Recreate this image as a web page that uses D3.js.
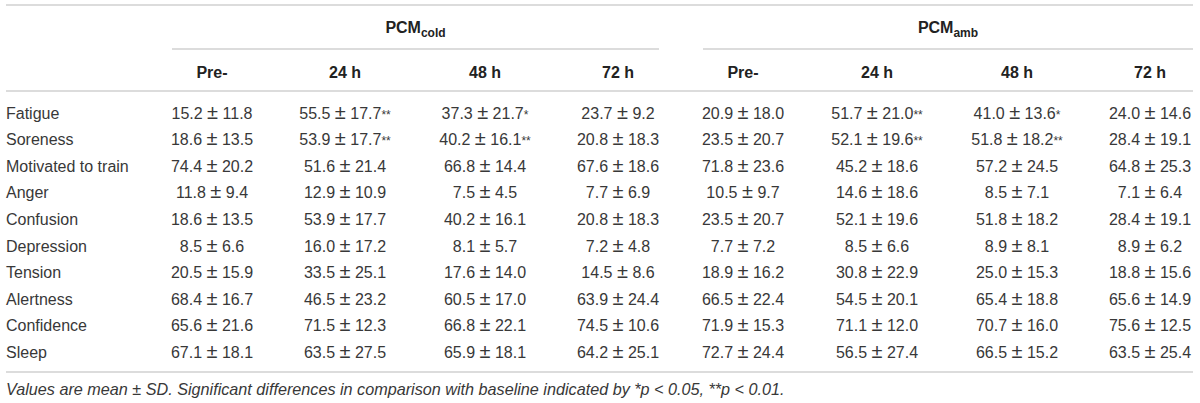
<!DOCTYPE html>
<html lang="en">
<head>
<meta charset="UTF-8">
<title>Mood questionnaire table</title>
<script src="https://d3js.org/d3.v7.min.js"></script>
<style>
    body { margin: 0; background: #fff; }
    svg { display: block; font-family: "Liberation Sans", Arial, sans-serif; }
    .rule { stroke: #dcdcdc; stroke-width: 2; }
    .cell { font-size: 16px; fill: #383838; }
    .head { font-size: 16px; font-weight: bold; fill: #222; }
    .note { font-size: 16.2px; font-style: italic; fill: #383838; }
</style>
</head>
<body>
<svg id="table" width="1200" height="403"></svg>
<script>
// row labels and column headers
const measures = ["Fatigue", "Soreness", "Motivated to train", "Anger", "Confusion",
                  "Depression", "Tension", "Alertness", "Confidence", "Sleep"];
const timepoints = ["Pre-", "24 h", "48 h", "72 h"];
const conditions = [{ key: "cold", base: "PCM", sub: "cold" }, { key: "amb", base: "PCM", sub: "amb" }];

// PCM cold: mean, SD, significance marks (Pre-, 24 h, 48 h, 72 h)
const coldMean = [
    [15.2, 55.5, 37.3, 23.7], [18.6, 53.9, 40.2, 20.8], [74.4, 51.6, 66.8, 67.6],
    [11.8, 12.9, 7.5, 7.7], [18.6, 53.9, 40.2, 20.8], [8.5, 16.0, 8.1, 7.2],
    [20.5, 33.5, 17.6, 14.5], [68.4, 46.5, 60.5, 63.9], [65.6, 71.5, 66.8, 74.5],
    [67.1, 63.5, 65.9, 64.2]
];
const coldSD = [
    [11.8, 17.7, 21.7, 9.2], [13.5, 17.7, 16.1, 18.3], [20.2, 21.4, 14.4, 18.6],
    [9.4, 10.9, 4.5, 6.9], [13.5, 17.7, 16.1, 18.3], [6.6, 17.2, 5.7, 4.8],
    [15.9, 25.1, 14.0, 8.6], [16.7, 23.2, 17.0, 24.4], [21.6, 12.3, 22.1, 10.6],
    [18.1, 27.5, 18.1, 25.1]
];
const coldSig = [
    ["", "**", "*", ""], ["", "**", "**", ""]
];

// PCM amb: mean, SD, significance marks
const ambMean = [
    [20.9, 51.7, 41.0, 24.0], [23.5, 52.1, 51.8, 28.4], [71.8, 45.2, 57.2, 64.8],
    [10.5, 14.6, 8.5, 7.1], [23.5, 52.1, 51.8, 28.4], [7.7, 8.5, 8.9, 8.9],
    [18.9, 30.8, 25.0, 18.8], [66.5, 54.5, 65.4, 65.6], [71.9, 71.1, 70.7, 75.6],
    [72.7, 56.5, 66.5, 63.5]
];
const ambSD = [
    [18.0, 21.0, 13.6, 14.6], [20.7, 19.6, 18.2, 19.1], [23.6, 18.6, 24.5, 25.3],
    [9.7, 18.6, 7.1, 6.4], [20.7, 19.6, 18.2, 19.1], [7.2, 6.6, 8.1, 6.2],
    [16.2, 22.9, 15.3, 15.6], [22.4, 20.1, 18.8, 14.9], [15.3, 12.0, 16.0, 12.5],
    [24.4, 27.4, 15.2, 25.4]
];
const ambSig = [
    ["", "**", "*", ""], ["", "**", "**", ""]
];

const footnote = "Values are mean \u00b1 SD. Significant differences in comparison with baseline indicated by *p < 0.05, **p < 0.01.";

const svg = d3.select("#table");
const fmt = d3.format(".1f");

// column centres (columns are not evenly spaced in the original layout)
const colX = d3.scaleOrdinal()
    .domain(["cold|Pre-", "cold|24 h", "cold|48 h", "cold|72 h", "amb|Pre-", "amb|24 h", "amb|48 h", "amb|72 h"])
    .range([212, 345, 485, 618, 743, 877, 1017, 1150]);
const groupSpan = { cold: [172, 659], amb: [703, 1193] };

const rowY = d3.scalePoint().domain(measures).range([112.7, 352]);

// horizontal rules
const rules = [
    { x1: 6, x2: 1193, y: 5 },
    { x1: groupSpan.cold[0], x2: groupSpan.cold[1], y: 49 },
    { x1: groupSpan.amb[0], x2: groupSpan.amb[1], y: 49 },
    { x1: 6, x2: 1193, y: 91 },
    { x1: 6, x2: 1193, y: 372 }
];
svg.selectAll("line.rule").data(rules).enter().append("line")
    .attr("class", "rule")
    .attr("x1", d => d.x1).attr("x2", d => d.x2)
    .attr("y1", d => d.y).attr("y2", d => d.y);

// condition headers
const grp = svg.selectAll("text.group").data(conditions).enter().append("text")
    .attr("class", "head group")
    .attr("x", d => (groupSpan[d.key][0] + groupSpan[d.key][1]) / 2)
    .attr("y", 33)
    .attr("text-anchor", "middle");
grp.append("tspan").text(d => d.base);
grp.append("tspan").attr("font-size", "12px").attr("dy", 4).text(d => d.sub);

// time point headers
const headCols = conditions.flatMap(c => timepoints.map(t => ({ cond: c.key, t })));
svg.selectAll("text.sub").data(headCols).enter().append("text")
    .attr("class", "head sub")
    .attr("x", d => colX(d.cond + "|" + d.t))
    .attr("y", 78)
    .attr("text-anchor", "middle")
    .text(d => d.t);

// row labels
svg.selectAll("text.label").data(measures).enter().append("text")
    .attr("class", "cell label")
    .attr("x", 6)
    .attr("y", d => rowY(d) + 6)
    .text(d => d);

// body cells
const source = { cold: [coldMean, coldSD, coldSig], amb: [ambMean, ambSD, ambSig] };
const cells = [];
measures.forEach((m, i) => {
    conditions.forEach(c => {
        const [mean, sd, sig] = source[c.key];
        timepoints.forEach((t, j) => {
            cells.push({
                m, x: colX(c.key + "|" + t),
                mean: fmt(mean[i][j]), sd: fmt(sd[i][j]),
                sig: (sig[i] && sig[i][j]) || ""
            });
        });
    });
});

const cellText = svg.selectAll("text.val").data(cells).enter().append("text")
    .attr("class", "cell val")
    .attr("x", d => d.x)
    .attr("y", d => rowY(d.m) + 6)
    .attr("text-anchor", "middle");
cellText.append("tspan").text(d => d.mean + " ");
cellText.append("tspan").attr("font-size", "20px").text("\u00b1");
cellText.append("tspan").text(d => " " + d.sd);
cellText.filter(d => d.sig).append("tspan")
    .attr("font-size", "12px")
    .text(d => d.sig);

// footnote
svg.append("text")
    .attr("class", "note")
    .attr("x", 6)
    .attr("y", 395)
    .text(footnote);
</script>
</body>
</html>
